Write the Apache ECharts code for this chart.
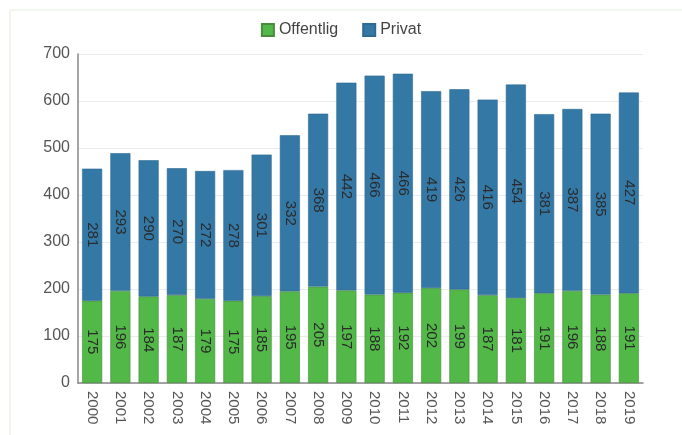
<!DOCTYPE html>
<html>
<head>
<meta charset="utf-8">
<script src="https://cdn.jsdelivr.net/npm/echarts@6/dist/echarts.min.js"></script>
<style>
html, body { margin: 0; padding: 0; background: #fff; }
#chart { width: 682px; height: 435px; }
</style>
</head>
<body>
<div id="chart"></div>
<script>
var years = ['2000', '2001', '2002', '2003', '2004', '2005', '2006', '2007', '2008', '2009',
    '2010', '2011', '2012', '2013', '2014', '2015', '2016', '2017', '2018', '2019'];
var offentlig = [175, 196, 184, 187, 179, 175, 185, 195, 205, 197, 188, 192, 202, 199, 187, 181, 191, 196, 188, 191];
var privat = [281, 293, 290, 270, 272, 278, 301, 332, 368, 442, 466, 466, 419, 426, 416, 454, 381, 387, 385, 427];

var chart = echarts.init(document.getElementById('chart'));

var barLabel = {
    show: true,
    position: 'inside',
    rotate: -90,
    color: '#2b2b2b',
    fontSize: 15,
    fontFamily: 'Liberation Sans'
};

var option = {
    animation: false,
    textStyle: { fontFamily: 'Liberation Sans' },
    graphic: [{
        type: 'polyline',
        shape: { points: [[10, 440], [10, 10], [690, 10]] },
        style: { stroke: '#e3eedc', lineWidth: 1, fill: null }
    }],
    legend: {
        top: 17,
        left: 'center',
        itemWidth: 12,
        itemHeight: 12,
        itemGap: 24,
        icon: 'rect',
        textStyle: { fontSize: 16, color: '#444' },
        data: ['Offentlig', 'Privat']
    },
    grid: { left: 78, right: 39, top: 54, bottom: 52 },
    xAxis: {
        type: 'category',
        data: years,
        axisLine: { lineStyle: { color: '#888', width: 1.5 } },
        axisTick: { show: false },
        axisLabel: { rotate: -90, color: '#555', fontSize: 15, margin: 8 }
    },
    yAxis: {
        type: 'value',
        min: 0,
        max: 700,
        interval: 100,
        axisLine: { show: true, lineStyle: { color: '#888', width: 1.5 } },
        axisTick: { show: false },
        splitLine: { lineStyle: { color: '#ebebeb' } },
        axisLabel: { color: '#555', fontSize: 16, margin: 8 }
    },
    series: [
        {
            name: 'Offentlig',
            type: 'bar',
            stack: 'total',
            barWidth: '71%',
            itemStyle: { color: '#52b848', borderColor: '#4a8a3c', borderWidth: 0.6 },
            label: barLabel,
            data: offentlig
        },
        {
            name: 'Privat',
            type: 'bar',
            stack: 'total',
            barWidth: '71%',
            itemStyle: { color: '#3478a6', borderColor: '#2f6a92', borderWidth: 0.6 },
            label: barLabel,
            data: privat
        }
    ]
};
chart.setOption(option);
window.onresize = chart.resize;
</script>
</body>
</html>
